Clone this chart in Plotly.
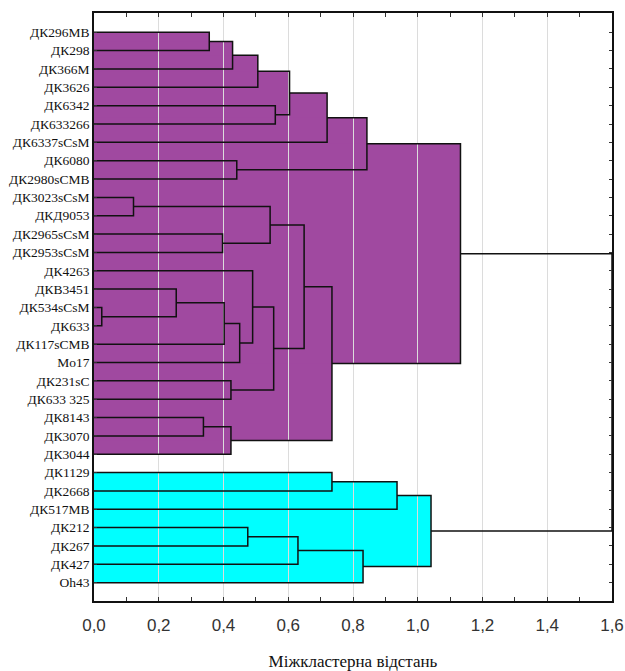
import plotly.graph_objects as go

# ---- data ----
leaf_labels = [
    "ДК296МВ", "ДК298", "ДК366М", "ДК3626", "ДК6342", "ДК633266", "ДК6337sCsM",
    "ДК6080", "ДК2980sCMB", "ДК3023sCsM", "ДКД9053", "ДК2965sCsM", "ДК2953sCsM",
    "ДК4263", "ДКВ3451", "ДК534sCsM", "ДК633", "ДК117sCMB", "Mo17", "ДК231sC",
    "ДК633 325", "ДК8143", "ДК3070", "ДК3044",
    "ДК1129", "ДК2668", "ДК517МВ", "ДК212", "ДК267", "ДК427", "Oh43",
]
# merges: new cluster ids start at len(leaf_labels)
merge_left = [0, 31, 32, 4, 33, 35, 7, 36, 9, 11, 39, 15, 14, 43, 44, 13, 19, 46, 41, 21, 50, 49, 38,
              24, 54, 27, 56, 57, 55, 53]
merge_right = [1, 2, 3, 5, 34, 6, 8, 37, 10, 12, 40, 16, 42, 17, 18, 45, 20, 47, 48, 22, 23, 51, 52,
               25, 26, 28, 29, 30, 58, 59]
merge_height = [0.356, 0.428, 0.506, 0.560, 0.604, 0.720, 0.441, 0.843, 0.122, 0.397, 0.544, 0.024,
                0.254, 0.402, 0.450, 0.490, 0.423, 0.555, 0.649, 0.338, 0.423, 0.735, 1.132,
                0.735, 0.936, 0.475, 0.630, 0.831, 1.041, 1.600]
merge_group = ["A"] * 23 + ["B"] * 6 + [None]
group_colors = {"A": "#A049A0", "B": "#00FFFF"}
x_ticks = [0.0, 0.2, 0.4, 0.6, 0.8, 1.0, 1.2, 1.4, 1.6]
x_title = "Міжкластерна відстань"

# ---- build dendrogram geometry ----
n = len(leaf_labels)
pos = {i: float(i) for i in range(n)}
hgt = {i: 0.0 for i in range(n)}
lx, ly = [], []
shapes = []
for k, (a, b, h) in enumerate(zip(merge_left, merge_right, merge_height)):
    cid = n + k
    ya, yb = pos[a], pos[b]
    lx += [hgt[a], h, h, hgt[b], None]
    ly += [ya, ya, yb, yb, None]
    g = merge_group[k]
    if g is not None:
        shapes.append(dict(type="rect", xref="x", yref="y", x0=0, x1=h, y0=ya, y1=yb,
                           fillcolor=group_colors[g], line=dict(width=0), layer="below"))
    pos[cid] = (ya + yb) / 2
    hgt[cid] = h

fig = go.Figure()
fig.add_trace(go.Scatter(x=lx, y=ly, mode="lines", line=dict(color="#111111", width=1.5),
                         hoverinfo="skip", showlegend=False, cliponaxis=False))

fig.update_layout(
    width=625, height=671,
    margin=dict(l=94, r=13, t=13, b=70),
    paper_bgcolor="white", plot_bgcolor="white",
    shapes=shapes,
    separators=", ",
    showlegend=False,
)
fig.update_xaxes(
    range=[0, 1.6], tickvals=x_ticks, tickformat=".1f", automargin=False,
    ticks="inside", ticklen=4, tickcolor="#333", mirror="ticks",
    minor=dict(dtick=0.1, ticks="inside", ticklen=4, tickcolor="#333", showgrid=False),
    showline=True, linecolor="#111", linewidth=1.5,
    showgrid=True, gridcolor="#dcdcdc", gridwidth=1, zeroline=False,
    ticklabelstandoff=8,
    tickfont=dict(family="Liberation Sans, Arial, sans-serif", size=17, color="#333"),
    title=dict(text=x_title, font=dict(family="Liberation Serif, Times New Roman, serif", size=17,
                                       color="#111"), standoff=28),
)
fig.update_yaxes(
    range=[31.0, -1.05], tickvals=list(range(n)), ticktext=leaf_labels, automargin=False,
    ticks="inside", ticklen=3, tickcolor="#333", mirror="ticks",
    showline=True, linecolor="#111", linewidth=1.5, showgrid=False, zeroline=False,
    tickfont=dict(family="Liberation Serif, Times New Roman, serif", size=13.5, color="#111"),
)

fig.write_html(
    "out.html",
    config={"displayModeBar": False},
    post_script="document.body.style.margin='0px';document.body.style.overflow='hidden';",
)
